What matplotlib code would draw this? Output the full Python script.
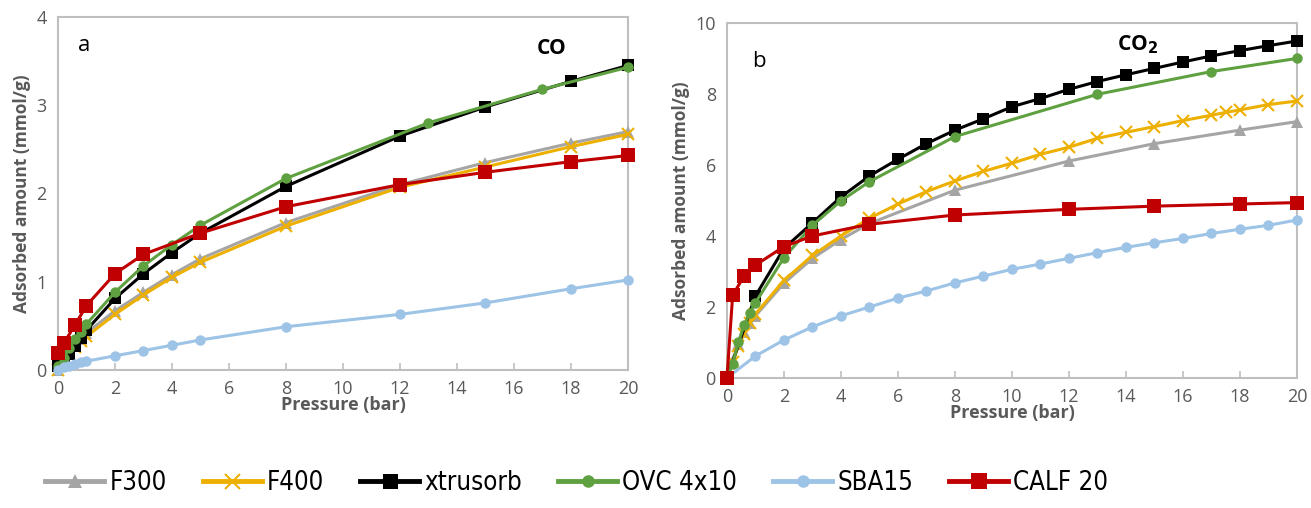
import numpy as np
import matplotlib.pyplot as plt
from matplotlib import font_manager

# ---- CO isotherms (panel a) ----
co_p = [0, 0.2, 0.4, 0.6, 0.8, 1, 2, 3, 4, 5, 8, 12, 15, 18, 20]
co_f300 = [0, 0.1, 0.2, 0.28, 0.35, 0.42, 0.67, 0.88, 1.08, 1.26, 1.67, 2.1, 2.35, 2.57, 2.7]
co_f400 = [0, 0.09, 0.18, 0.26, 0.33, 0.38, 0.63, 0.85, 1.05, 1.22, 1.63, 2.07, 2.3, 2.53, 2.67]
co_xtru = [0.05, 0.1, 0.18, 0.27, 0.36, 0.45, 0.81, 1.09, 1.33, 1.55, 2.08, 2.65, 2.98, 3.27, 3.45]
co_sba = [0, 0.03, 0.05, 0.07, 0.09, 0.1, 0.16, 0.22, 0.28, 0.34, 0.49, 0.63, 0.76, 0.92, 1.02]

co_ovc_p = [0, 0.2, 0.4, 0.6, 0.8, 1, 2, 3, 4, 5, 8, 13, 17, 20]
co_ovc = [0.05, 0.14, 0.25, 0.35, 0.43, 0.52, 0.88, 1.18, 1.42, 1.64, 2.17, 2.8, 3.18, 3.43]

co_calf_p = [0, 0.2, 0.6, 1, 2, 3, 5, 8, 12, 15, 18, 20]
co_calf = [0.19, 0.3, 0.51, 0.73, 1.09, 1.31, 1.55, 1.85, 2.1, 2.24, 2.36, 2.43]

# ---- CO2 isotherms (panel b) ----
co2_p_full = [0, 1, 2, 3, 4, 5, 6, 7, 8, 9, 10, 11, 12, 13, 14, 15, 16, 17, 18, 19, 20]
co2_xtru = [0, 2.31, 3.65, 4.37, 5.1, 5.69, 6.16, 6.6, 6.98, 7.3, 7.64, 7.87, 8.13, 8.35, 8.54, 8.72, 8.9, 9.07, 9.22, 9.36, 9.49]
co2_sba = [0, 0.62, 1.07, 1.44, 1.75, 2.0, 2.25, 2.45, 2.68, 2.87, 3.06, 3.21, 3.37, 3.53, 3.68, 3.81, 3.93, 4.07, 4.19, 4.3, 4.45]

co2_f400_p = [0, 0.2, 0.4, 0.6, 0.8, 1, 2, 3, 4, 5, 6, 7, 8, 9, 10, 11, 12, 13, 14, 15, 16, 17, 17.5, 18, 19, 20]
co2_f400 = [0, 0.45, 0.9, 1.25, 1.55, 1.8, 2.75, 3.45, 4.0, 4.5, 4.9, 5.25, 5.55, 5.82, 6.05, 6.3, 6.5, 6.75, 6.92, 7.08, 7.25, 7.4, 7.48, 7.55, 7.7, 7.8]

co2_f300_p = [0, 0.2, 0.4, 0.6, 0.8, 1, 2, 3, 4, 5, 8, 12, 15, 18, 20]
co2_f300 = [0, 0.5, 0.95, 1.3, 1.55, 1.75, 2.67, 3.37, 3.9, 4.35, 5.29, 6.11, 6.6, 6.98, 7.22]

co2_ovc_p = [0, 0.2, 0.4, 0.6, 0.8, 1, 2, 3, 4, 5, 8, 13, 17, 20]
co2_ovc = [0, 0.4, 1.0, 1.49, 1.82, 2.12, 3.39, 4.3, 4.99, 5.53, 6.8, 7.99, 8.63, 9.0]

co2_calf_p = [0, 0.2, 0.6, 1, 2, 3, 5, 8, 12, 15, 18, 20]
co2_calf = [0, 2.33, 2.87, 3.18, 3.7, 4.0, 4.33, 4.59, 4.75, 4.84, 4.9, 4.94]

names = ["F300", "F400", "xtrusorb", "OVC 4x10", "SBA15", "CALF 20"]
colors = ["#A5A5A5", "#EDB000", "#000000", "#5FA040", "#9DC3E6", "#C00000"]
markers = ["^", "x", "s", "o", "o", "s"]
msizes = [8, 9, 9, 7.5, 7.5, 9.5]

plt.rcParams['font.family'] = ['Open Sans', 'DejaVu Sans']

fig = plt.figure(figsize=(13.11, 5.08), dpi=100)
ax_a = fig.add_axes([0.0442, 0.2717, 0.4348, 0.695])
ax_b = fig.add_axes([0.5545, 0.2559, 0.4348, 0.699])

gray_txt = "#595959"


def style_axes(ax, ymax, ystep):
    ax.set_xlim(0, 20)
    ax.set_ylim(0, ymax)
    ax.set_xticks(np.arange(0, 21, 2))
    ax.set_yticks(np.arange(0, ymax + 0.1, ystep))
    for s in ax.spines.values():
        s.set_color("#BFBFBF")
        s.set_linewidth(1.5)
    ax.tick_params(axis="x", direction="in", length=5, color="#BFBFBF", width=1.2,
                   labelsize=13, labelcolor=gray_txt, pad=7)
    ax.tick_params(axis="y", length=0, labelsize=13, labelcolor=gray_txt, pad=8)
    ax.set_xlabel("Pressure (bar)", fontsize=13, fontweight="bold", color=gray_txt, labelpad=-1)
    ax.set_ylabel("Adsorbed amount (mmol/g)", fontsize=12.5, fontweight="bold", color=gray_txt, labelpad=4)


def draw(ax, xs, ys, i):
    mew = 1.5 if markers[i] == "x" else 0
    ax.plot(xs, ys, color=colors[i], lw=2.2, marker=markers[i], ms=msizes[i],
            mew=mew, mec=colors[i], clip_on=False, label=names[i], zorder=3)


draw(ax_a, co_p, co_f300, 0)
draw(ax_a, co_p, co_f400, 1)
draw(ax_a, co_p, co_xtru, 2)
draw(ax_a, co_ovc_p, co_ovc, 3)
draw(ax_a, co_p, co_sba, 4)
draw(ax_a, co_calf_p, co_calf, 5)
style_axes(ax_a, 4, 1)
ax_a.text(0.035, 0.95, "a", transform=ax_a.transAxes, fontsize=16, va="top")
ax_a.text(0.84, 0.94, "CO", transform=ax_a.transAxes, fontsize=15, fontweight="bold", va="top")

draw(ax_b, co2_f300_p, co2_f300, 0)
draw(ax_b, co2_f400_p, co2_f400, 1)
draw(ax_b, co2_p_full, co2_xtru, 2)
draw(ax_b, co2_ovc_p, co2_ovc, 3)
draw(ax_b, co2_p_full, co2_sba, 4)
draw(ax_b, co2_calf_p, co2_calf, 5)
style_axes(ax_b, 10, 2)
ax_b.text(0.045, 0.92, "b", transform=ax_b.transAxes, fontsize=16, va="top")
ax_b.text(0.685, 0.97, "CO$_\\mathbf{2}$", transform=ax_b.transAxes, fontsize=15, fontweight="bold", va="top")

handles, labels = ax_a.get_legend_handles_labels()
leg_font = font_manager.FontProperties(family="DejaVu Sans", stretch="condensed", size=18.5)
leg = fig.legend(handles, labels, loc="center", bbox_to_anchor=(0.44, 0.05), ncol=6, frameon=False,
                 prop=leg_font, handlelength=2.3, columnspacing=1.4, handletextpad=0.2, markerscale=1.2)
for ln in leg.get_lines():
    ln.set_linewidth(3.5)

fig.savefig("out.png", dpi=100)
